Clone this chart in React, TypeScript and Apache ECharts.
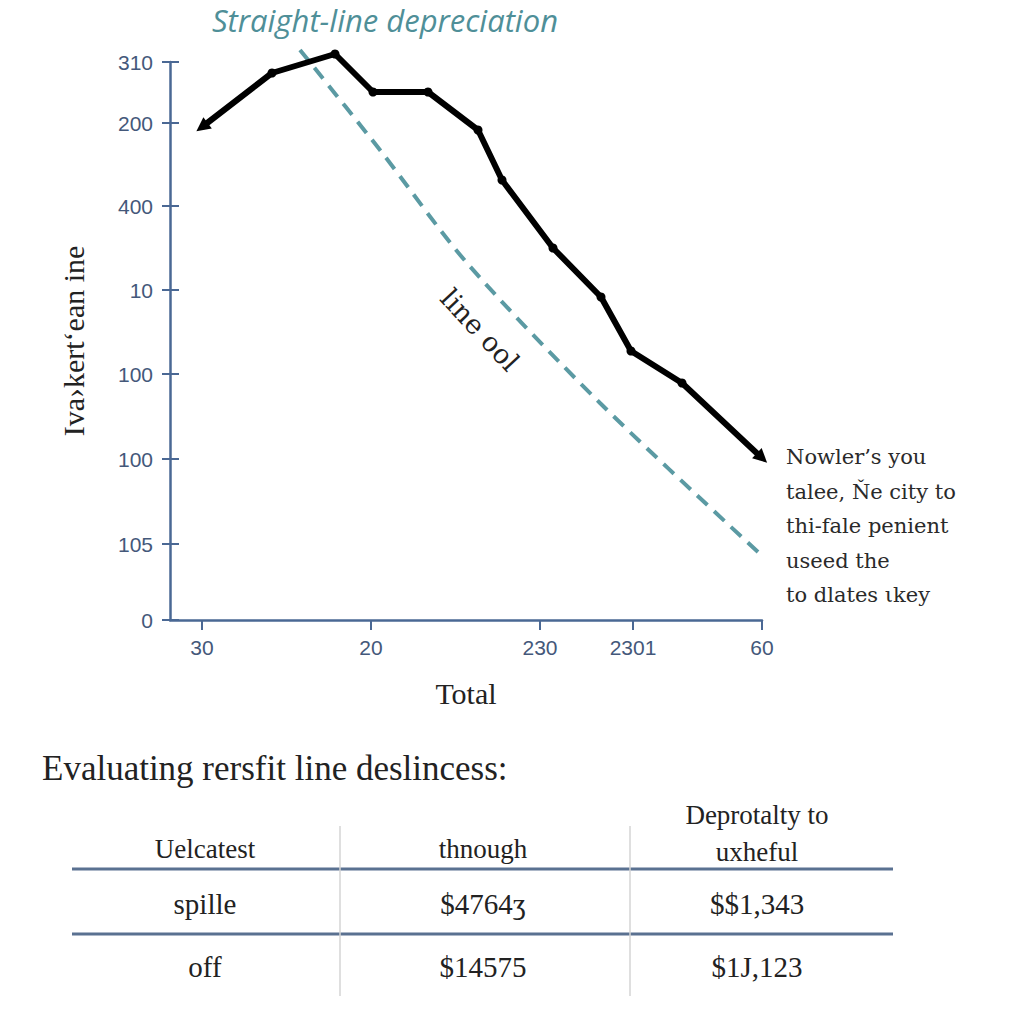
import React, { useEffect, useRef } from "react";
import * as echarts from "echarts";

// ---- data ----
const yTickPos = [0, 76, 161, 246, 330, 414, 497, 558];
const yTickLabels = ["0", "105", "100", "100", "10", "400", "200", "310"];
const xTickPos = [32, 201, 370, 463, 592];
const xTickLabels = ["30", "20", "230", "2301", "60"];

const actualX = [32, 102, 165, 203, 258, 308, 332, 383, 431, 461, 512, 592];
const actualY = [493, 547, 566, 528, 528, 490, 440, 372, 323, 269, 237, 162];

const straightX = [130, 210, 297, 430, 588];
const straightY = [570, 470, 357, 217, 68];

const titleText = "Straight-line depreciation";
const yAxisName = "Iva›kert‘ean ine";
const xAxisName = "Total";
const lineNote = "line ool";
const noteLines = [
  "Nowler’s you",
  "talee, Ňe city to",
  "thi-fale penient",
  "useed the",
  "to dlates ιkey",
];
const tableTitle = "Evaluating rersfit line deslincess:";
const tableHeaders = [["Uelcatest"], ["thnough"], ["Deprotalty to", "uxheful"]];
const tableRows = [
  ["spille", "$4764ʒ", "$$1,343"],
  ["off", "$14575", "$1J,123"],
];

const AXIS = "#4a6894";
const LABEL = "#44587a";

function labelFor(pos: number[], labels: string[], v: number) {
  let best = -1;
  let bd = Infinity;
  pos.forEach((p, i) => {
    const d = Math.abs(p - v);
    if (d < bd) {
      bd = d;
      best = i;
    }
  });
  return bd < 1 ? labels[best] : "";
}

export default function App() {
  const ref = useRef<HTMLDivElement>(null);
  useEffect(() => {
    if (!ref.current) return;
    const chart = echarts.init(ref.current, null, { renderer: "svg" });

    const actualData = actualX.map((x, i) => {
      const item: any = { value: [x, actualY[i]] };
      if (i === 0) {
        item.symbol = "triangle";
        item.symbolSize = [14, 14];
        item.symbolRotate = 127;
      } else if (i === actualX.length - 1) {
        item.symbol = "triangle";
        item.symbolSize = [14, 14];
        item.symbolRotate = -133;
      }
      return item;
    });
    const straightData = straightX.map((x, i) => [x, straightY[i]]);

    const colX = [205, 483, 757];
    const graphics: any[] = [];
    graphics.push({
      type: "text",
      left: 212,
      top: 4,
      style: {
        text: titleText,
        font: "italic 31px 'Open Sans'",
        fill: "#4f8f98",
      },
    });
    noteLines.forEach((t, i) => {
      graphics.push({
        type: "text",
        x: 786,
        y: 457 + i * 34.5,
        style: {
          text: t,
          font: "21px 'DejaVu Serif'",
          fill: "#2a2a2a",
          verticalAlign: "middle",
          align: "left",
        },
      });
    });
    graphics.push({
      type: "text",
      x: 480,
      y: 330,
      rotation: (-47 * Math.PI) / 180,
      style: {
        text: lineNote,
        font: "27px 'DejaVu Serif'",
        fill: "#222",
        align: "center",
        verticalAlign: "middle",
      },
    });
    graphics.push({
      type: "text",
      x: 42,
      y: 768,
      style: {
        text: tableTitle,
        font: "35px 'Liberation Serif'",
        fill: "#222",
        verticalAlign: "middle",
      },
    });
    tableHeaders.forEach((h, c) => {
      const ys = h.length === 1 ? [849] : [815, 852];
      h.forEach((t, k) => {
        graphics.push({
          type: "text",
          x: colX[c],
          y: ys[k],
          style: {
            text: t,
            font: "27px 'Liberation Serif'",
            fill: "#222",
            align: "center",
            verticalAlign: "middle",
          },
        });
      });
    });
    tableRows.forEach((row, r) => {
      row.forEach((t, c) => {
        graphics.push({
          type: "text",
          x: colX[c],
          y: r === 0 ? 904 : 967,
          style: {
            text: t,
            font: "29px 'Liberation Serif'",
            fill: "#222",
            align: "center",
            verticalAlign: "middle",
          },
        });
      });
    });
    [869, 934].forEach((y) => {
      graphics.push({
        type: "line",
        shape: { x1: 72, y1: y, x2: 893, y2: y },
        style: { stroke: "#5a7191", lineWidth: 3 },
      });
    });
    [340, 630].forEach((x) => {
      graphics.push({
        type: "line",
        shape: { x1: x, y1: 826, x2: x, y2: 996 },
        style: { stroke: "#d4d4d4", lineWidth: 1.5 },
      });
    });

    chart.setOption({
      animation: false,
      backgroundColor: "#ffffff",
      grid: { left: 170, right: 262, top: 62, bottom: 404, containLabel: false },
      xAxis: {
        type: "value",
        min: 0,
        max: 592,
        name: xAxisName,
        nameLocation: "middle",
        nameGap: 58,
        nameTextStyle: {
          fontFamily: "Liberation Serif",
          fontSize: 30,
          color: "#222",
        },
        axisLine: { show: true, lineStyle: { color: AXIS, width: 2.5 } },
        axisTick: {
          show: true,
          length: 10,
          customValues: xTickPos,
          lineStyle: { color: AXIS, width: 2 },
        },
        axisLabel: {
          customValues: xTickPos,
          margin: 17,
          fontFamily: "Liberation Sans",
          fontSize: 21,
          color: LABEL,
          formatter: (v: number) => labelFor(xTickPos, xTickLabels, v),
        },
        splitLine: { show: false },
      },
      yAxis: [
        {
          type: "value",
          min: 0,
          max: 558,
          name: yAxisName,
          nameLocation: "middle",
          nameRotate: 90,
          nameGap: 82,
          nameTextStyle: {
            fontFamily: "Liberation Serif",
            fontSize: 30,
            color: "#222",
          },
          axisLine: { show: true, lineStyle: { color: AXIS, width: 2.5 } },
          axisTick: {
            show: true,
            length: 8,
            customValues: yTickPos,
            lineStyle: { color: AXIS, width: 2 },
          },
          axisLabel: {
            customValues: yTickPos,
            margin: 17,
            fontFamily: "Liberation Sans",
            fontSize: 21,
            color: LABEL,
            formatter: (v: number) => labelFor(yTickPos, yTickLabels, v),
          },
          splitLine: { show: false },
        },
        {
          type: "value",
          min: 0,
          max: 558,
          position: "left",
          axisLine: { show: false },
          axisTick: {
            show: true,
            inside: true,
            length: 9,
            customValues: yTickPos,
            lineStyle: { color: AXIS, width: 2 },
          },
          axisLabel: { show: false },
          splitLine: { show: false },
        },
      ],
      series: [
        {
          type: "line",
          name: "straight",
          data: straightData,
          smooth: 0.3,
          symbol: "none",
          clip: false,
          lineStyle: { color: "#5b9aa3", width: 4, type: [14, 9] },
          z: 2,
        },
        {
          type: "line",
          name: "actual",
          data: actualData,
          symbol: "circle",
          symbolSize: 9,
          clip: false,
          itemStyle: { color: "#000" },
          lineStyle: { color: "#000", width: 6, join: "round" },
          z: 3,
        },
      ],
      graphic: graphics,
    });
    return () => chart.dispose();
  }, []);
  return (
    <div
      ref={ref}
      style={{
        position: "fixed",
        left: 0,
        top: 0,
        width: 1024,
        height: 1024,
        background: "#fff",
      }}
    />
  );
}
